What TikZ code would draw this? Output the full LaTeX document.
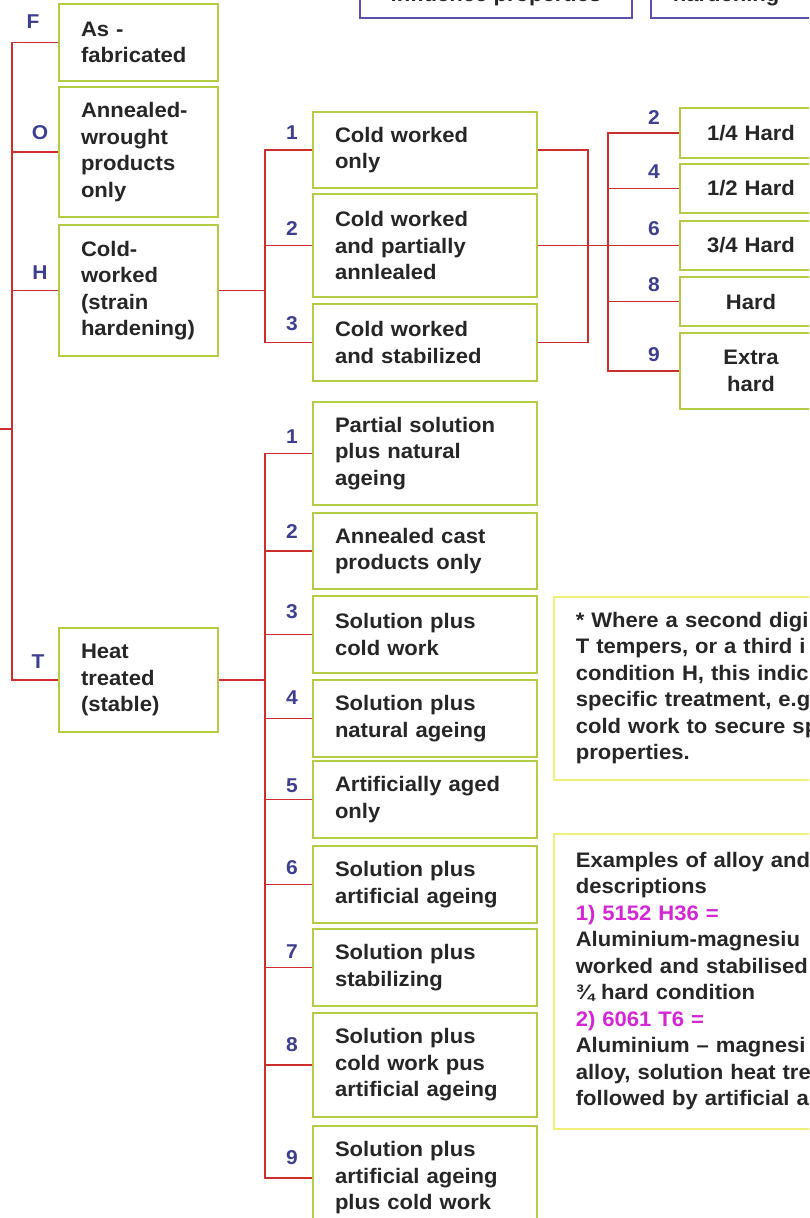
\documentclass[tikz,border=0pt]{standalone}
\usepackage{fontspec}
\setmainfont{Liberation Sans}[FakeStretch=1.05]
\definecolor{linkred}{HTML}{CC2E2E}
\definecolor{boxgreen}{HTML}{B2CC44}
\definecolor{tagblue}{HTML}{3F3F92}
\definecolor{topblue}{HTML}{5A50AE}
\definecolor{noteyellow}{HTML}{F0F078}
\definecolor{exmagenta}{HTML}{D426D4}

\begin{document}
\begin{tikzpicture}[
    x=1pt, y=-1pt,
    txt/.style={font=\fontsize{21}{26.5}\selectfont\bfseries, text=black!85},
    box/.style={txt, rectangle, draw=boxgreen, line width=1.6pt, fill=white, inner xsep=22pt, inner ysep=0pt, align=left},
    colA/.style={box, text width=115pt, minimum width=159pt},
    colB/.style={box, text width=180pt, minimum width=224pt},
    hard/.style={box, align=center, text width=98pt, minimum width=142pt},
    note/.style={txt, rectangle, draw=noteyellow, line width=1.6pt, fill=white, inner xsep=22pt, inner ysep=0pt, align=left, text width=300pt, anchor=north west},
    topbox/.style={txt, rectangle, draw=topblue, line width=1.6pt, fill=white, inner xsep=22pt, inner ysep=12pt, text depth=5pt},
    link/.style={draw=linkred, line width=1.6pt},
    tag/.style={font=\fontsize{20}{20}\selectfont\bfseries, text=tagblue, inner sep=0pt}
]
    \fill[white] (0,0) rectangle (809,1218);
    \useasboundingbox (0,0) rectangle (809,1218);
    \clip (0,0) rectangle (809,1218);

    % boxes cut off at the top
    \node[topbox, anchor=south, minimum width=272pt] (infl) at (496,19) {influence properties};
    \node[topbox, anchor=south west, text width=190pt, align=left] (hard) at (650,19) {hardening};

    % temper letters
    \node[colA, minimum height=77pt] (F) at (138.5,42.5) {As -\\fabricated};
    \node[colA, minimum height=130pt] (O) at (138.5,152) {Annealed-\\wrought\\products\\only};
    \node[colA, minimum height=131pt] (H) at (138.5,290.5) {Cold-\\worked\\(strain\\hardening)};
    \node[colA, minimum height=104pt] (T) at (138.5,680) {Heat\\treated\\(stable)};

    \node[tag] (tagF) at (33,22) {F};
    \node[tag] (tagO) at (40,133) {O};
    \node[tag] (tagH) at (40,273) {H};
    \node[tag] (tagT) at (38,662) {T};

    % H subdivisions
    \node[colB, minimum height=76pt] (h1) at (425,150) {Cold worked\\only};
    \node[colB, minimum height=103pt] (h2) at (425,245.5) {Cold worked\\and partially\\annlealed};
    \node[colB, minimum height=77pt] (h3) at (425,342.5) {Cold worked\\and stabilized};

    % degree of hardness
    \node[hard, minimum height=50pt] (d1) at (751,133) {1/4 Hard};
    \node[hard, minimum height=49pt] (d2) at (751,188.5) {1/2 Hard};
    \node[hard, minimum height=49pt] (d3) at (751,245.5) {3/4 Hard};
    \node[hard, minimum height=49pt] (d4) at (751,301.5) {Hard};
    \node[hard, minimum height=76pt] (d5) at (751,371) {Extra\\hard};

    % T subdivisions
    \node[colB, minimum height=103pt] (t1) at (425,453.5) {Partial solution\\plus natural\\ageing};
    \node[colB, minimum height=76pt] (t2) at (425,551) {Annealed cast\\products only};
    \node[colB, minimum height=77pt] (t3) at (425,634.5) {Solution plus\\cold work};
    \node[colB, minimum height=77pt] (t4) at (425,718.5) {Solution plus\\natural ageing};
    \node[colB, minimum height=77pt] (t5) at (425,799.5) {Artificially aged\\only};
    \node[colB, minimum height=77pt] (t6) at (425,884.5) {Solution plus\\artificial ageing};
    \node[colB, minimum height=77pt] (t7) at (425,967.5) {Solution plus\\stabilizing};
    \node[colB, minimum height=104pt] (t8) at (425,1065) {Solution plus\\cold work pus\\artificial ageing};
    \node[colB, minimum height=104pt] (t9) at (425,1178) {Solution plus\\artificial ageing\\plus cold work};

    % notes
    \node[note, minimum height=183pt] (note1) at (553,596) {* Where a second digi\\T tempers, or a third i\\condition H, this indic\\specific treatment, e.g\\cold work to secure sp\\properties.};
    \node[note, minimum height=295pt] (note2) at (553,833) {Examples of alloy and\\descriptions\\\textcolor{exmagenta}{1) 5152 H36 =}\\Aluminium-magnesiu\\worked and stabilised\\¾ hard condition\\\textcolor{exmagenta}{2) 6061 T6 =}\\Aluminium – magnesi\\alloy, solution heat tre\\followed by artificial a};

    % junctions
    \coordinate (in) at (0,429);
    \coordinate (jA) at (12,429);
    \coordinate (jH) at (265,290.5);
    \coordinate (jR) at (588,245.5);
    \coordinate (jD) at (608,245.5);
    \coordinate (jT) at (265,680);

    \draw[link] (in) -- (jA);
    \foreach \n in {F,O,H,T}
        \draw[link] (\n.west) -| (jA);

    \draw[link] (H.east) -- (jH);
    \foreach \n in {h1,h2,h3}
        \draw[link] (\n.west) -| (jH);
    \draw[link] (h1.east) -| (jR);
    \draw[link] (h3.east) -| (jR);
    \draw[link] (h2.east) -- (jD);
    \foreach \n in {d1,d2,d3,d4,d5}
        \draw[link] (\n.west) -| (jD);

    \draw[link] (T.east) -- (jT);
    \foreach \n in {1,...,9}
        \draw[link] (t\n.west) -| (jT);

    % digits
    \foreach \i/\y in {1/133, 2/229, 3/324}
        \node[tag] (nh\i) at (292,\y) {\i};
    \foreach \i/\y in {1/437, 2/532, 3/612, 4/698, 5/786, 6/868, 7/952, 8/1045, 9/1158}
        \node[tag] (nt\i) at (292,\y) {\i};
    \foreach \i/\y in {2/118, 4/172, 6/229, 8/285, 9/355}
        \node[tag] (nd\i) at (654,\y) {\i};
\end{tikzpicture}
\end{document}
